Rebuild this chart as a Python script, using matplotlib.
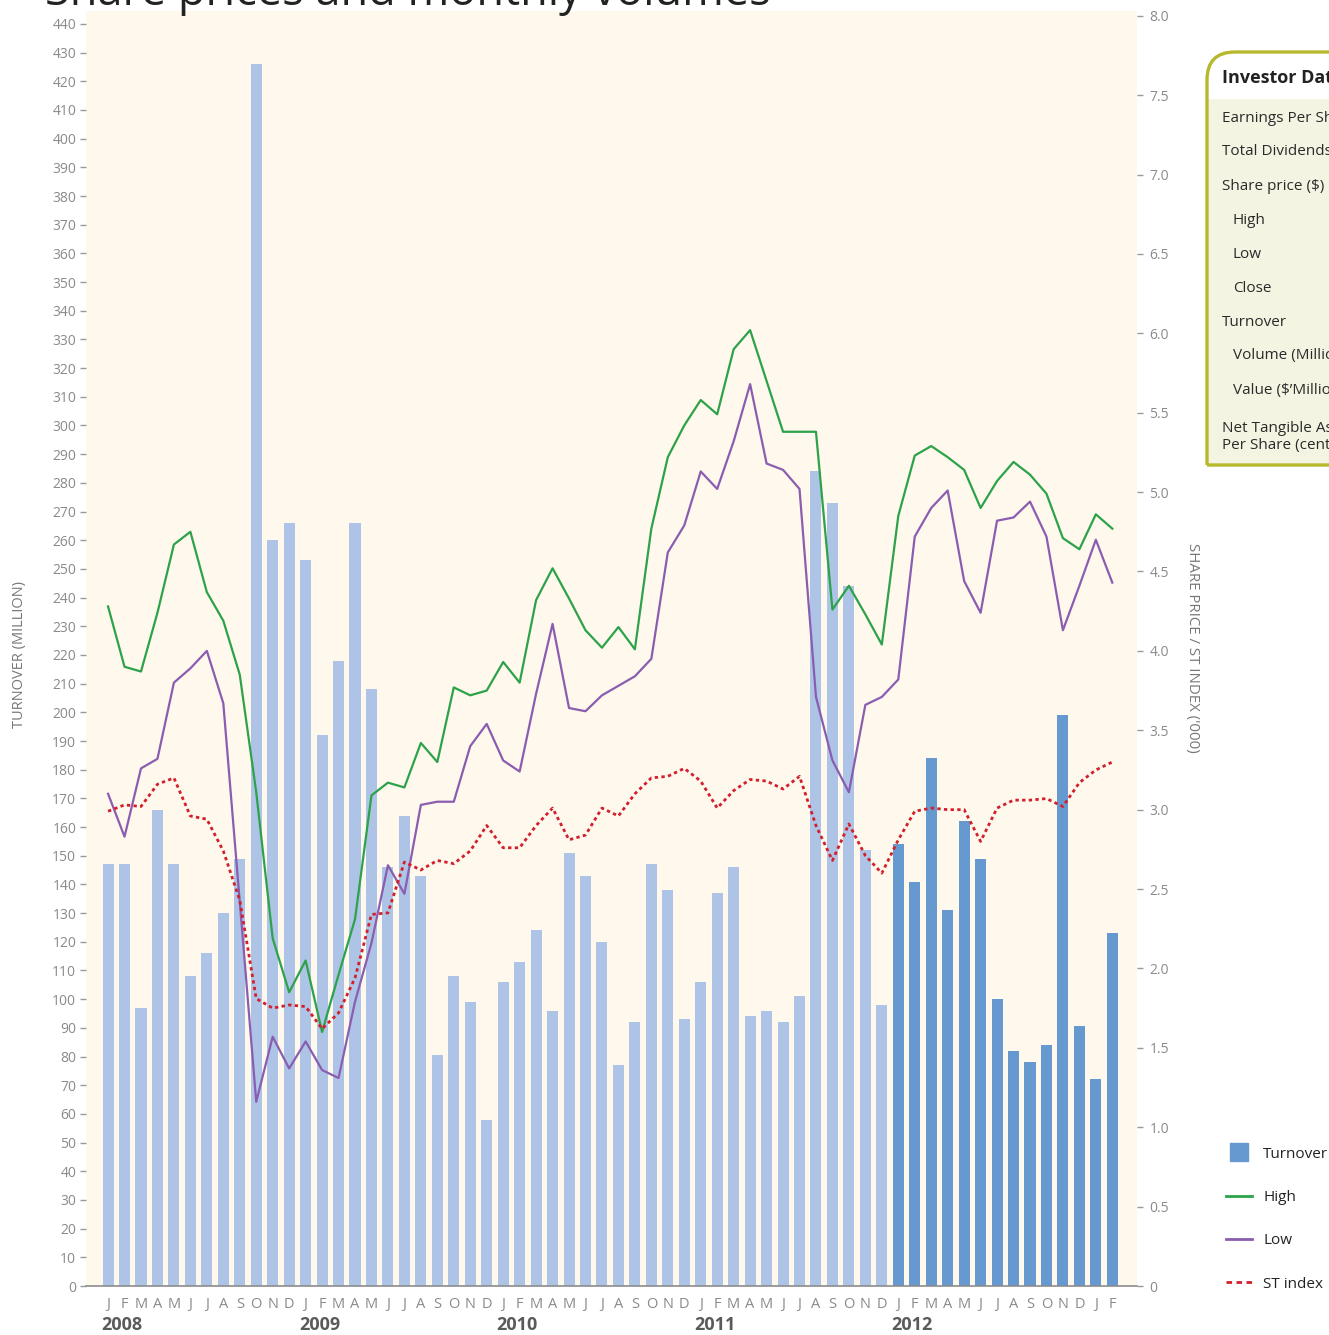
import numpy as np
import matplotlib
matplotlib.use("Agg")
import matplotlib.pyplot as plt
from matplotlib.path import Path
from matplotlib.patches import PathPatch
from matplotlib.lines import Line2D

plt.rcParams['font.family'] = ['Open Sans', 'DejaVu Sans']

# ---------------- data ----------------
months = ["J", "F", "M", "A", "M", "J", "J", "A", "S", "O", "N", "D"] * 5 + ["J", "F"]
years = ["2008", "2009", "2010", "2011", "2012"]

turnover = [
    147, 147, 97, 166, 147, 108, 116, 130, 149, 426, 260, 266,      # 2008
    253, 192, 218, 266, 208, 146, 164, 143, 80.5, 108, 99, 58,      # 2009
    106, 113, 124, 96, 151, 143, 120, 77, 92, 147, 138, 93,         # 2010
    106, 137, 146, 94, 96, 92, 101, 284, 273, 244, 152, 98,         # 2011
    154, 141, 184, 131, 162, 149, 100, 82, 78, 84, 199, 90.5,       # 2012
    72, 123]                                                        # 2013

high = [
    4.28, 3.90, 3.87, 4.24, 4.67, 4.75, 4.37, 4.19, 3.85, 3.11, 2.19, 1.85,
    2.05, 1.60, 1.96, 2.31, 3.09, 3.17, 3.14, 3.42, 3.30, 3.77, 3.72, 3.75,
    3.93, 3.80, 4.32, 4.52, 4.33, 4.13, 4.02, 4.15, 4.01, 4.77, 5.22, 5.42,
    5.58, 5.49, 5.90, 6.02, 5.70, 5.38, 5.38, 5.38, 4.26, 4.41, 4.23, 4.04,
    4.85, 5.23, 5.29, 5.22, 5.14, 4.90, 5.07, 5.19, 5.11, 4.99, 4.71, 4.64,
    4.86, 4.77]

low = [
    3.10, 2.83, 3.26, 3.32, 3.80, 3.89, 4.00, 3.67, 2.42, 1.16, 1.57, 1.37,
    1.54, 1.36, 1.31, 1.79, 2.16, 2.65, 2.47, 3.03, 3.05, 3.05, 3.40, 3.54,
    3.31, 3.24, 3.73, 4.17, 3.64, 3.62, 3.72, 3.78, 3.84, 3.95, 4.62, 4.79,
    5.13, 5.02, 5.32, 5.68, 5.18, 5.14, 5.02, 3.71, 3.31, 3.11, 3.66, 3.71,
    3.82, 4.72, 4.90, 5.01, 4.44, 4.24, 4.82, 4.84, 4.94, 4.72, 4.13, 4.41,
    4.70, 4.43]

st_index = [
    2.99, 3.03, 3.02, 3.16, 3.20, 2.96, 2.94, 2.74, 2.43, 1.81, 1.75, 1.77,
    1.76, 1.62, 1.72, 1.94, 2.34, 2.35, 2.67, 2.62, 2.68, 2.66, 2.74, 2.90,
    2.76, 2.76, 2.90, 3.01, 2.81, 2.84, 3.01, 2.96, 3.10, 3.20, 3.21, 3.26,
    3.18, 3.01, 3.12, 3.19, 3.18, 3.13, 3.21, 2.90, 2.68, 2.91, 2.71, 2.60,
    2.81, 2.99, 3.01, 3.00, 3.00, 2.80, 3.01, 3.06, 3.06, 3.07, 3.02, 3.17,
    3.25, 3.30]

investor_rows = ["Earnings Per Share (cents)", "Total Dividends (cents)", "Share price ($)",
                 "High", "Low", "Close", "Turnover", "Volume (Million)", "Value ($\u2019Million)",
                 "Net Tangible Assets\nPer Share (cents)"]
investor_indent = [False, False, False, True, True, True, False, True, True, False]

# ---------------- style ----------------
W, H = 1329, 1335
BG = '#fff8ec'
LIGHT = '#aec4e6'
DARK = '#6699cf'
GREEN = '#2ca24a'
PURPLE = '#8a5db0'
RED = '#d21f2b'
GREY = '#8a8a8a'

def fx(p):
    return p / W

def fy(p):
    return 1 - p / H

fig = plt.figure(figsize=(W / 100, H / 100), dpi=100)
fig.patch.set_facecolor('white')

ax = fig.add_axes([fx(86), fy(1286), (1137 - 86) / W, (1286 - 11) / H])
ax.set_facecolor(BG)
x = np.arange(len(turnover))
bar_colors = [LIGHT if i < 48 else DARK for i in x]
ax.bar(x, turnover, width=0.67, color=bar_colors, zorder=2)
ax.set_xlim(-1.34, 62.5)
ax.set_ylim(0, 444.5)
for s in ['top', 'left', 'right']:
    ax.spines[s].set_visible(False)
ax.spines['bottom'].set_color('#8c8c8c')
ax.spines['bottom'].set_linewidth(1.2)
ax.set_yticks(np.arange(0, 441, 10))
ax.tick_params(axis='y', length=4, width=1, color='#999999', labelcolor=GREY,
               labelsize=10, pad=3)
ax.set_xticks(x)
ax.set_xticklabels(months)
ax.tick_params(axis='x', length=0, labelcolor=GREY, labelsize=10.5, pad=8)

for k, yr in enumerate(years):
    ax.text(12 * k - 0.4, -0.0305, yr, transform=ax.get_xaxis_transform(),
            ha='left', va='center', fontsize=13, fontweight='bold', color='#5a5a5a')

ax2 = ax.twinx()
ax2.set_ylim(0, 8.03)
rt = np.arange(0, 8.01, 0.5)
ax2.set_yticks(rt)
ax2.set_yticklabels(['0'] + [f'{v:.1f}' for v in rt[1:]])
for s in ['top', 'left', 'right', 'bottom']:
    ax2.spines[s].set_visible(False)
ax2.tick_params(axis='y', length=4, width=1, color='#999999', labelcolor=GREY,
                labelsize=10, pad=5)

ax2.plot(x, high, color=GREEN, lw=1.6, zorder=3)
ax2.plot(x, low, color=PURPLE, lw=1.6, zorder=3)
ax2.plot(x, st_index, color=RED, lw=2.0, linestyle=(0, (1.2, 1.2)), zorder=4)

# axis titles
fig.text(fx(20), fy(655), 'TURNOVER (MILLION)', rotation=90, ha='center', va='center',
         fontsize=10.5, color='#777777')
fig.text(fx(1192), fy(648), "SHARE PRICE / ST INDEX ('000)", rotation=270, ha='center',
         va='center', fontsize=10.8, color='#777777')

# clipped title at the top (as in the reference)
fig.text(fx(45), fy(5), 'Share prices and monthly volumes', ha='left', va='baseline',
         fontsize=32.5, color='#222222')

# Investor Data box
R = 28
L, T, B, RR = 1207, 52, 465, 1345
def box_path(bottom):
    verts = [(L, bottom), (L, T + R), (L, T), (L + R, T), (RR, T), (RR, bottom), (L, bottom)]
    codes = [Path.MOVETO, Path.LINETO, Path.CURVE3, Path.CURVE3, Path.LINETO, Path.LINETO,
             Path.CLOSEPOLY]
    return Path([(fx(a), fy(b)) for a, b in verts], codes)

fig.patches.append(PathPatch(box_path(B), transform=fig.transFigure, facecolor='#f4f4e2',
                             edgecolor='none', zorder=1))
fig.patches.append(PathPatch(box_path(99), transform=fig.transFigure, facecolor='white',
                             edgecolor='none', zorder=2))
fig.patches.append(PathPatch(box_path(B), transform=fig.transFigure, facecolor='none',
                             edgecolor='#b7b82c', lw=2.4, zorder=3))
fig.text(fx(1222), fy(78), 'Investor Data', ha='left', va='center', fontsize=13,
         fontweight='bold', color='#222222')
row_y = [118, 152, 186, 220, 254, 288, 322, 356, 390, 437]
for label, ind, yy in zip(investor_rows, investor_indent, row_y):
    fig.text(fx(1233 if ind else 1222), fy(yy), label, ha='left', va='center',
             fontsize=11, color='#2a2a2a', linespacing=1.15)

# legend
handles = [Line2D([], [], marker='s', color=DARK, linestyle='none', markersize=13.5),
           Line2D([], [], color=GREEN, lw=2),
           Line2D([], [], color=PURPLE, lw=2),
           Line2D([], [], color=RED, lw=2, linestyle=(0, (2, 1.6)))]
fig.legend(handles, ['Turnover', 'High', 'Low', 'ST index'], loc='upper left',
           bbox_to_anchor=(fx(1212), fy(1133)), frameon=False, fontsize=11,
           handlelength=1.75, labelspacing=1.85, handletextpad=0.7, labelcolor='#222222')

fig.savefig('out.png', dpi=100, facecolor='white')
